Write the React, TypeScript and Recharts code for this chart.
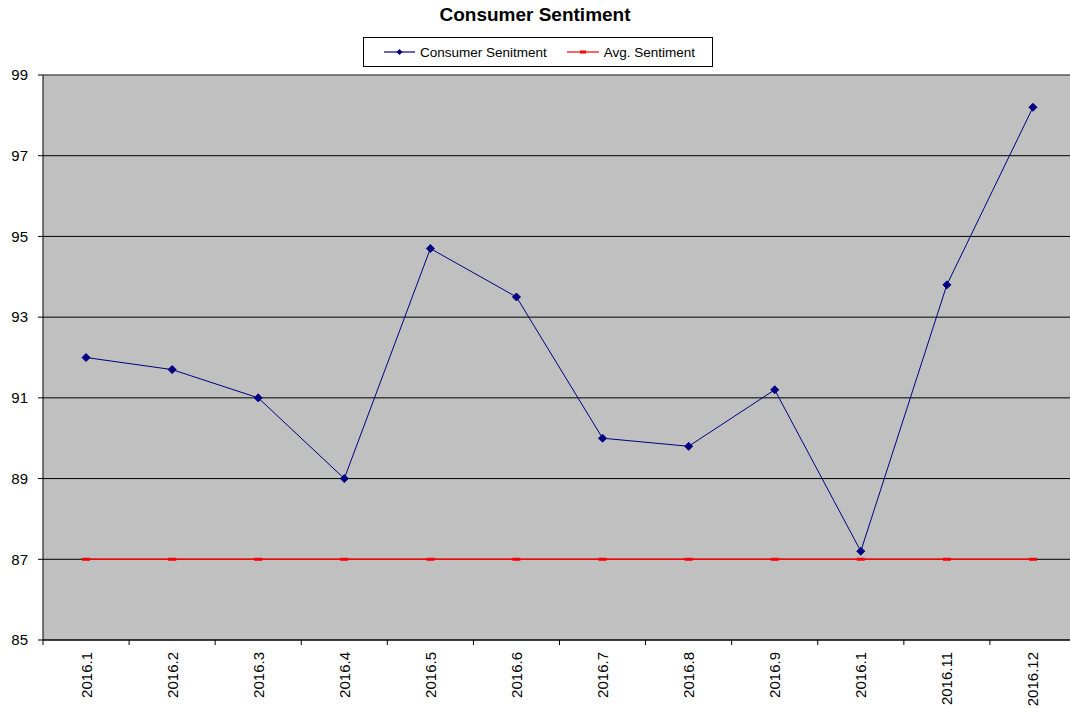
import React from "react";
import { LineChart, Line, XAxis, YAxis, CartesianGrid, ReferenceLine } from "recharts";

const categories = ["2016.1", "2016.2", "2016.3", "2016.4", "2016.5", "2016.6", "2016.7", "2016.8", "2016.9", "2016.1", "2016.11", "2016.12"];
const sentiment = [92.0, 91.7, 91.0, 89.0, 94.7, 93.5, 90.0, 89.8, 91.2, 87.2, 93.8, 98.2];
const avgSentiment = [87, 87, 87, 87, 87, 87, 87, 87, 87, 87, 87, 87];
const yTicks = [85, 87, 89, 91, 93, 95, 97, 99];

const data = categories.map((c, i) => ({ key: i, label: c, sentiment: sentiment[i], avg: avgSentiment[i] }));

const CHART_W = 1080;
const CHART_H = 708;
const LEFT = 43;
const RIGHT_M = 4;
const BW = (CHART_W - LEFT - RIGHT_M) / categories.length;
const FONT = "Arial, 'Liberation Sans', sans-serif";

const Diamond = (props: any) => {
  const { cx, cy } = props;
  if (cx == null || cy == null) return null;
  const r = 4;
  return <polygon points={`${cx},${cy - r} ${cx + r},${cy} ${cx},${cy + r} ${cx - r},${cy}`} fill="#000080" stroke="#000080" />;
};

const Square = (props: any) => {
  const { cx, cy } = props;
  if (cx == null || cy == null) return null;
  return <rect x={cx - 4} y={cy - 1.5} width={8} height={3} fill="#FF0000" />;
};

const XTick = (props: any) => {
  const { x, y, payload } = props;
  const idx = payload.value as number;
  return (
    <g>
      <line x1={x - BW / 2} y1={y} x2={x - BW / 2} y2={y + 5} stroke="#000" />
      {idx === categories.length - 1 && <line x1={x + BW / 2} y1={y} x2={x + BW / 2} y2={y + 5} stroke="#000" />}
      <text x={x} y={y + 12} transform={`rotate(-90 ${x} ${y + 12})`} textAnchor="end" dominantBaseline="central" fontSize={15} fontFamily={FONT} fill="#000">
        {categories[idx]}
      </text>
    </g>
  );
};

const LegendBox = () => (
  <div style={{ position: "absolute", left: 363, top: 37, width: 348, height: 28, border: "1px solid #000", background: "#fff", display: "flex", alignItems: "center", fontFamily: FONT, fontSize: 13.5, color: "#000", whiteSpace: "nowrap" }}>
    <svg width={31} height={10} style={{ marginLeft: 20, flex: "none" }}>
      <line x1={0} y1={5} x2={31} y2={5} stroke="#000080" strokeWidth={1.2} />
      <polygon points="15.5,2 18.5,5 15.5,8 12.5,5" fill="#000080" />
    </svg>
    <span style={{ marginLeft: 5 }}>Consumer Senitment</span>
    <svg width={32} height={10} style={{ marginLeft: 20, flex: "none" }}>
      <line x1={0} y1={5} x2={32} y2={5} stroke="#FF0000" strokeWidth={1.2} />
      <rect x={13} y={3.5} width={6} height={3} fill="#FF0000" />
    </svg>
    <span style={{ marginLeft: 5 }}>Avg. Sentiment</span>
  </div>
);

export default function App() {
  return (
    <div style={{ position: "absolute", left: 0, top: 0, width: CHART_W, height: CHART_H, background: "#fff", overflow: "hidden" }}>
      <div style={{ position: "absolute", left: 0, top: 4, width: 1070, textAlign: "center", fontFamily: FONT, fontWeight: "bold", fontSize: 19, color: "#000" }}>
        Consumer Sentiment
      </div>
      <LegendBox />
      <LineChart width={CHART_W} height={CHART_H} data={data} margin={{ top: 75, right: RIGHT_M, bottom: 0, left: 0 }}>
        <CartesianGrid horizontal vertical={false} stroke="#000" strokeOpacity={1} fill="#C0C0C0" fillOpacity={1} />
        <ReferenceLine y={99} stroke="#808080" />
        <XAxis dataKey="key" type="category" height={68} interval={0} padding={{ left: BW / 2, right: BW / 2 }} tickSize={0} tickMargin={0} tickLine={false} axisLine={{ stroke: "#000" }} tick={<XTick />} />
        <YAxis width={LEFT} domain={[85, 99]} ticks={yTicks} interval={0} tickSize={5} tickMargin={10} tickLine={{ stroke: "#000" }} axisLine={{ stroke: "#000" }} tick={{ fill: "#000", fontSize: 15, fontFamily: FONT }} />
        <Line type="linear" dataKey="avg" stroke="#FF0000" strokeWidth={1.5} dot={<Square />} isAnimationActive={false} />
        <Line type="linear" dataKey="sentiment" stroke="#000080" strokeWidth={1} dot={<Diamond />} isAnimationActive={false} />
      </LineChart>
    </div>
  );
}
